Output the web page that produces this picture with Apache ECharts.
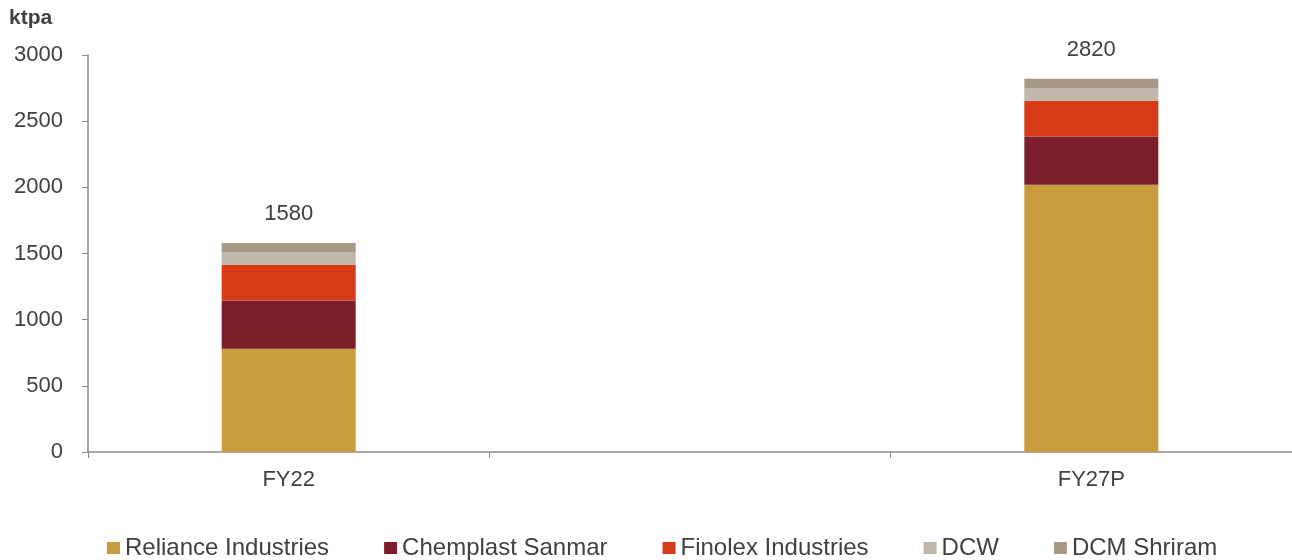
<!DOCTYPE html>
<html>
<head>
<meta charset="utf-8">
<script src="https://cdn.jsdelivr.net/npm/echarts@6/dist/echarts.min.js"></script>
<style>
  html, body { margin: 0; padding: 0; background: #ffffff; }
  #chart { width: 1292px; height: 560px; }
</style>
</head>
<body>
<div id="chart"></div>
<script>
// Capacity by producer (ktpa); the middle category is an empty spacer slot
const categories = ['FY22', '', 'FY27P'];
const reliance   = [780, null, 2020];
const chemplast  = [365, null, 365];
const finolex    = [270, null, 270];
const dcw        = [95,  null, 95];
const dcmShriram = [70,  null, 70];
const totals     = [1580, null, 2820];
const yTicks     = { min: 0, max: 3000, interval: 500 };

const seriesDefs = [
  { name: 'Reliance Industries', data: reliance,   color: '#C89B3C' },
  { name: 'Chemplast Sanmar',    data: chemplast,  color: '#7B1E2B' },
  { name: 'Finolex Industries',  data: finolex,    color: '#D63A16' },
  { name: 'DCW',                 data: dcw,        color: '#BFB7AA' },
  { name: 'DCM Shriram',         data: dcmShriram, color: '#A89886' }
];

const textColor = '#404040';
const axisColor = '#8a8a8a';
const fontFamily = 'Arial, "Liberation Sans", sans-serif';

const chart = echarts.init(document.getElementById('chart'), null, { renderer: 'canvas' });

const series = seriesDefs.map((s, idx) => {
  const isTop = idx === seriesDefs.length - 1;
  return {
    name: s.name,
    type: 'bar',
    stack: 'total',
    data: s.data,
    barWidth: 134,
    itemStyle: { color: s.color },
    emphasis: { disabled: true },
    label: isTop ? {
      show: true,
      position: 'top',
      distance: 18,
      color: textColor,
      fontSize: 22,
      fontFamily: fontFamily,
      formatter: p => (totals[p.dataIndex] == null ? '' : String(totals[p.dataIndex]))
    } : { show: false }
  };
});

chart.setOption({
  animation: false,
  backgroundColor: '#ffffff',
  textStyle: { fontFamily: fontFamily },
  title: {
    text: 'ktpa',
    left: 9,
    top: 8,
    padding: 0,
    textStyle: { fontSize: 21, fontWeight: 'bold', color: textColor, fontFamily: fontFamily }
  },
  legend: {
    data: seriesDefs.map(s => s.name),
    left: 107,
    top: 536,
    itemGap: 55,
    itemWidth: 13,
    itemHeight: 12,
    icon: 'rect',
    selectedMode: false,
    padding: 0,
    textStyle: { fontSize: 24, color: textColor, fontFamily: fontFamily }
  },
  grid: { left: 88, top: 55, right: 0, bottom: 108, containLabel: false },
  xAxis: {
    type: 'category',
    data: categories,
    boundaryGap: true,
    axisLine: { show: true, lineStyle: { color: axisColor, width: 1.5 } },
    axisTick: { show: true, alignWithLabel: false, length: 6, lineStyle: { color: axisColor } },
    axisLabel: { color: textColor, fontSize: 22, margin: 17, fontFamily: fontFamily },
    splitLine: { show: false }
  },
  yAxis: {
    type: 'value',
    min: yTicks.min,
    max: yTicks.max,
    interval: yTicks.interval,
    axisLine: { show: true, lineStyle: { color: axisColor, width: 1.5 } },
    axisTick: { show: true, inside: false, length: 6, lineStyle: { color: axisColor } },
    axisLabel: {
      color: textColor, fontSize: 22, margin: 25, fontFamily: fontFamily,
      formatter: v => String(v)
    },
    splitLine: { show: false }
  },
  series: series
});
</script>
</body>
</html>
